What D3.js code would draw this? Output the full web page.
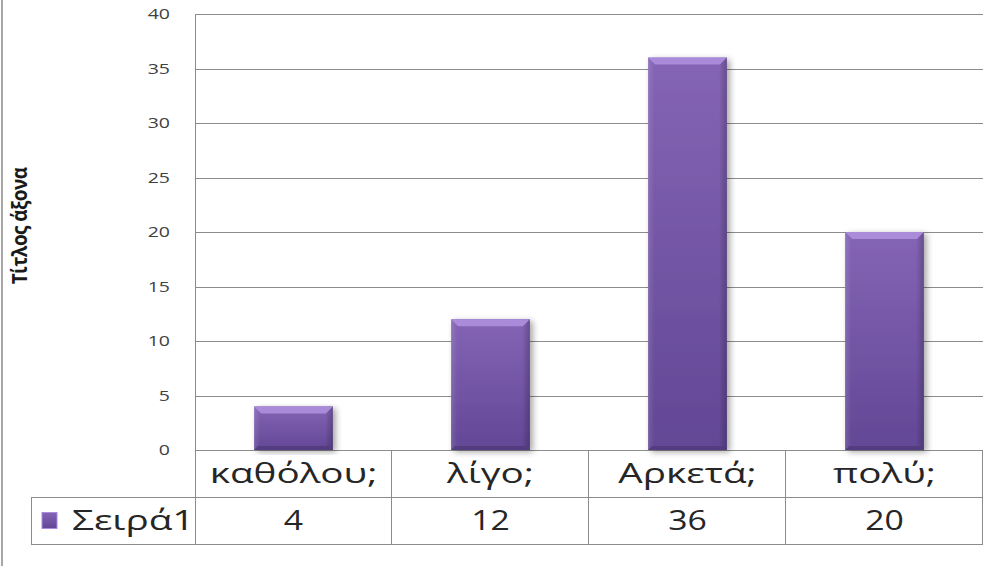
<!DOCTYPE html>
<html>
<head>
<meta charset="utf-8">
<script src="https://cdn.jsdelivr.net/npm/d3@7"></script>
<style>
  html, body { margin: 0; padding: 0; background: #fff; }
  svg { display: block; }
  text { font-family: "Open Sans", "Noto Sans", sans-serif; }
</style>
</head>
<body>
<div id="chart"></div>
<script>
// data
const categories = ["καθόλου;", "λίγο;", "Αρκετά;", "πολύ;"];
const values = [4, 12, 36, 20];
const seriesName = "Σειρά1";
const yTicks = [0, 5, 10, 15, 20, 25, 30, 35, 40];
const axisTitle = "Τίτλος άξονα";

const W = 990, H = 566;
const plot = { left: 195, right: 983, top: 14, bottom: 450 };
const rowH = 47;
const stretch = 1.3;      // the original picture is widened horizontally
const wordStretch = 1.38; // greek words in the table look wider still

const svg = d3.select("#chart").append("svg")
  .attr("width", W)
  .attr("height", H);

const defs = svg.append("defs");

const body = defs.append("linearGradient")
  .attr("id", "barBody").attr("x1", 0).attr("y1", 0).attr("x2", 0).attr("y2", 1);
body.append("stop").attr("offset", "0%").attr("stop-color", "#8464b5");
body.append("stop").attr("offset", "100%").attr("stop-color", "#624795");

const side = defs.append("linearGradient")
  .attr("id", "barSide").attr("x1", 0).attr("y1", 0).attr("x2", 1).attr("y2", 0);
side.append("stop").attr("offset", "0%").attr("stop-color", "#ffffff").attr("stop-opacity", 0.12);
side.append("stop").attr("offset", "8%").attr("stop-color", "#ffffff").attr("stop-opacity", 0);
side.append("stop").attr("offset", "90%").attr("stop-color", "#000000").attr("stop-opacity", 0);
side.append("stop").attr("offset", "100%").attr("stop-color", "#000000").attr("stop-opacity", 0.22);

const shadow = defs.append("filter").attr("id", "shadow")
  .attr("x", "-20%").attr("y", "-5%").attr("width", "150%").attr("height", "115%");
shadow.append("feDropShadow")
  .attr("dx", 3).attr("dy", 2).attr("stdDeviation", 3)
  .attr("flood-color", "#000").attr("flood-opacity", 0.35);

/* ─── Scales ─── */
const x = d3.scaleBand()
  .domain(categories)
  .range([plot.left, plot.right])
  .paddingInner(0.6)
  .paddingOuter(0.3);

const band = d3.scaleBand()
  .domain(categories)
  .range([plot.left, plot.right]);

const y = d3.scaleLinear()
  .domain([0, 40])
  .range([plot.bottom, plot.top]);

const grey = "#8c8c8c";

// outer border on the left
svg.append("line")
  .attr("x1", 2).attr("x2", 2).attr("y1", 0).attr("y2", H)
  .attr("stroke", "#a6a6a6").attr("stroke-width", 2);

/* ─── Gridlines + ticks ─── */
svg.append("g")
  .selectAll("line")
  .data(yTicks)
  .join("line")
  .attr("x1", plot.left).attr("x2", plot.right)
  .attr("y1", d => Math.round(y(d)) + 0.5)
  .attr("y2", d => Math.round(y(d)) + 0.5)
  .attr("stroke", grey);

svg.append("line")
  .attr("x1", plot.left + 0.5).attr("x2", plot.left + 0.5)
  .attr("y1", plot.top).attr("y2", plot.bottom + rowH * 2)
  .attr("stroke", grey);

svg.append("g")
  .selectAll("text")
  .data(yTicks)
  .join("text")
  .attr("transform", d => `translate(170,${y(d)}) scale(${stretch},1)`)
  .attr("text-anchor", "end")
  .attr("dy", "0.35em")
  .attr("font-size", 15)
  .attr("fill", "#404040")
  .text(d => d);

svg.append("text")
  .attr("transform", `translate(20,226) rotate(-90) scale(1,1.1)`)
  .attr("text-anchor", "middle")
  .attr("dy", "0.35em")
  .attr("font-size", 19)
  .attr("font-weight", "bold")
  .attr("letter-spacing", -0.6)
  .attr("fill", "#1a1a1a")
  .text(axisTitle);

/* ─── Bars ─── */
const bars = svg.append("g")
  .selectAll("g")
  .data(categories.map((c, i) => ({ c, v: values[i] })))
  .join("g");

bars.append("rect")
  .attr("x", d => x(d.c))
  .attr("y", d => y(d.v))
  .attr("width", x.bandwidth())
  .attr("height", d => y(0) - y(d.v))
  .attr("fill", "url(#barBody)")
  .attr("filter", "url(#shadow)");

bars.append("rect")
  .attr("x", d => x(d.c))
  .attr("y", d => y(d.v))
  .attr("width", x.bandwidth())
  .attr("height", d => y(0) - y(d.v))
  .attr("fill", "url(#barSide)");

bars.append("polygon")
  .attr("points", d => {
    const x0 = x(d.c), x1 = x0 + x.bandwidth(), y0 = y(d.v);
    return `${x0},${y0} ${x1},${y0} ${x1 - 7},${y0 + 7} ${x0 + 7},${y0 + 7}`;
  })
  .attr("fill", "#a98bd9");

bars.append("polygon")
  .attr("points", d => {
    const x0 = x(d.c), x1 = x0 + x.bandwidth(), y1 = y(0);
    return `${x0},${y1} ${x1},${y1} ${x1 - 4},${y1 - 4} ${x0 + 4},${y1 - 4}`;
  })
  .attr("fill", "#533c80");

/* ─── Data table ─── */
const table = svg.append("g");
const rowTop = plot.bottom, rowMid = plot.bottom + rowH, rowBot = plot.bottom + rowH * 2;
const legendLeft = 31;

table.append("line")
  .attr("x1", legendLeft).attr("x2", plot.right)
  .attr("y1", rowMid + 0.5).attr("y2", rowMid + 0.5).attr("stroke", grey);
table.append("line")
  .attr("x1", legendLeft).attr("x2", plot.right)
  .attr("y1", rowBot + 0.5).attr("y2", rowBot + 0.5).attr("stroke", grey);
table.append("line")
  .attr("x1", legendLeft + 0.5).attr("x2", legendLeft + 0.5)
  .attr("y1", rowMid).attr("y2", rowBot).attr("stroke", grey);

table.selectAll(".col")
  .data(categories)
  .join("line")
  .attr("class", "col")
  .attr("x1", d => Math.round(band(d) + band.bandwidth()) - 0.5)
  .attr("x2", d => Math.round(band(d) + band.bandwidth()) - 0.5)
  .attr("y1", rowTop).attr("y2", rowBot)
  .attr("stroke", grey);

table.selectAll(".cat")
  .data(categories)
  .join("text")
  .attr("class", "cat")
  .attr("transform", d => `translate(${band(d) + band.bandwidth() / 2},${(rowTop + rowMid) / 2}) scale(${wordStretch},1)`)
  .attr("text-anchor", "middle")
  .attr("dy", "0.35em")
  .attr("font-size", 28)
  .attr("fill", "#262626")
  .text(d => d);

table.selectAll(".val")
  .data(categories.map((c, i) => ({ c, v: values[i] })))
  .join("text")
  .attr("class", "val")
  .attr("transform", d => `translate(${band(d.c) + band.bandwidth() / 2},${(rowMid + rowBot) / 2}) scale(1.25,1)`)
  .attr("text-anchor", "middle")
  .attr("dy", "0.35em")
  .attr("font-size", 27)
  .attr("fill", "#262626")
  .text(d => d.v);

table.append("rect")
  .attr("x", 42).attr("y", (rowMid + rowBot) / 2 - 8)
  .attr("width", 15).attr("height", 16)
  .attr("fill", "url(#barBody)")
  .attr("stroke", "#a98bd9").attr("stroke-width", 1);

table.append("text")
  .attr("transform", `translate(72,${(rowMid + rowBot) / 2}) scale(${wordStretch},1)`)
  .attr("dy", "0.35em")
  .attr("font-size", 28)
  .attr("fill", "#262626")
  .text(seriesName);
</script>
</body>
</html>
